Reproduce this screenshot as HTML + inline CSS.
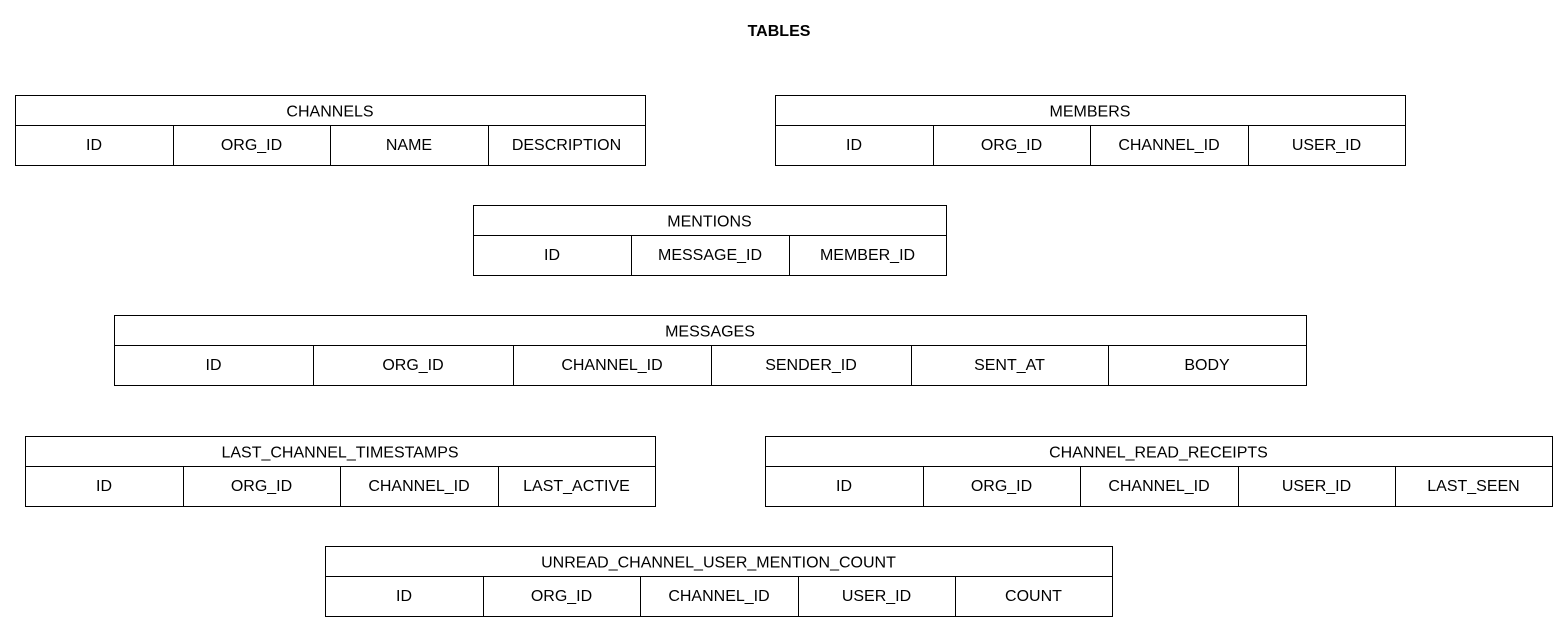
<!DOCTYPE html>
<html><head><meta charset="utf-8"><style>
html,body{margin:0;padding:0;background:#fff;}
svg{display:block;font-family:"Liberation Sans",Arial,sans-serif;}
</style></head><body>
<svg width="1568" height="632" viewBox="0 0 1568 632" xmlns="http://www.w3.org/2000/svg">
<rect width="1568" height="632" fill="#fff"/>
<text x="779" y="36" font-size="16" font-weight="bold" text-anchor="middle">TABLES</text>
<g id="t" fill="none" stroke="#000" stroke-width="1" shape-rendering="crispEdges"></g>
<g id="l" font-size="16" text-anchor="middle" fill="#000"></g>
</svg>
<script>
var T=[
["CHANNELS",95,[15,173,330,488,645],["ID","ORG_ID","NAME","DESCRIPTION"]],
["MEMBERS",95,[775,933,1090,1248,1405],["ID","ORG_ID","CHANNEL_ID","USER_ID"]],
["MENTIONS",205,[473,631,789,946],["ID","MESSAGE_ID","MEMBER_ID"]],
["MESSAGES",315,[114,313,513,711,911,1108,1306],["ID","ORG_ID","CHANNEL_ID","SENDER_ID","SENT_AT","BODY"]],
["LAST_CHANNEL_TIMESTAMPS",436,[25,183,340,498,655],["ID","ORG_ID","CHANNEL_ID","LAST_ACTIVE"]],
["CHANNEL_READ_RECEIPTS",436,[765,923,1080,1238,1395,1552],["ID","ORG_ID","CHANNEL_ID","USER_ID","LAST_SEEN"]],
["UNREAD_CHANNEL_USER_MENTION_COUNT",546,[325,483,640,798,955,1112],["ID","ORG_ID","CHANNEL_ID","USER_ID","COUNT"]]
];
var ns="http://www.w3.org/2000/svg",g=document.getElementById("t"),l=document.getElementById("l");
function el(p,n,a,tx){var e=document.createElementNS(ns,n);for(var k in a)e.setAttribute(k,a[k]);if(tx)e.textContent=tx;p.appendChild(e);}
T.forEach(function(t){var y=t[1]+0.5,c=t[2],x0=c[0]+0.5,x1=c[c.length-1]+0.5;
el(g,"rect",{x:x0,y:y,width:x1-x0,height:70});
el(g,"line",{x1:x0,y1:y+30,x2:x1,y2:y+30});
for(var i=1;i<c.length-1;i++)el(g,"line",{x1:c[i]+0.5,y1:y+30,x2:c[i]+0.5,y2:y+70});
el(l,"text",{x:(c[0]+c[c.length-1])/2,y:t[1]+21.5},t[0]);
for(var i=0;i<t[3].length;i++)el(l,"text",{x:(c[i]+c[i+1])/2,y:t[1]+55},t[3][i]);
});
</script>
</body></html>
